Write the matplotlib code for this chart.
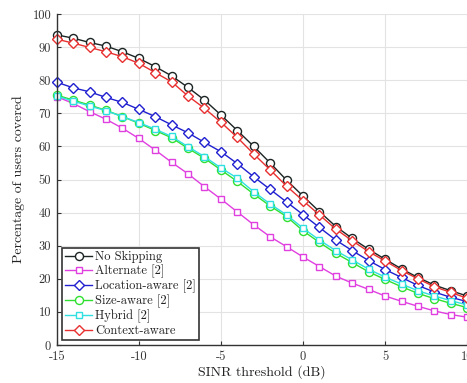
import numpy as np
import matplotlib
matplotlib.use("Agg")
import matplotlib.pyplot as plt

sinr = list(range(-15, 11))

no_skipping = [93.7, 92.7, 91.4, 90.3, 88.6, 86.6, 84.1, 81.3, 77.8, 74.0, 69.5, 64.8, 60.0,
               55.0, 49.8, 45.0, 40.3, 35.8, 32.2, 28.9, 25.9, 23.0, 20.4, 18.1, 16.4, 14.8]
alternate = [75.0, 73.0, 70.5, 68.2, 65.5, 62.4, 58.9, 55.2, 51.7, 47.8, 44.1, 40.2, 36.3,
             32.7, 29.7, 26.6, 23.7, 20.8, 18.7, 16.8, 14.8, 13.2, 11.7, 10.3, 9.2, 8.4]
location_aware = [79.4, 77.7, 76.5, 74.8, 73.3, 71.2, 69.0, 66.5, 64.1, 61.2, 58.4, 54.8, 50.8,
                  47.0, 43.2, 39.4, 35.5, 31.7, 28.5, 25.5, 22.8, 20.4, 18.0, 16.0, 14.4, 13.1]
size_aware = [75.5, 74.0, 72.5, 70.9, 69.0, 67.0, 64.8, 62.6, 59.4, 56.4, 52.9, 49.4, 45.6,
              42.0, 38.8, 34.5, 31.0, 27.7, 24.9, 22.1, 19.8, 17.6, 15.6, 14.0, 12.6, 11.3]
hybrid = [75.2, 73.7, 72.2, 70.8, 69.0, 67.2, 65.2, 63.0, 59.9, 56.9, 53.5, 50.4, 46.3,
          42.6, 39.3, 35.3, 31.7, 28.5, 25.7, 22.9, 20.5, 18.4, 16.4, 14.8, 13.4, 12.1]
context_aware = [92.4, 91.2, 89.9, 88.6, 87.1, 85.1, 82.3, 79.5, 75.2, 71.5, 67.3, 62.7, 57.7,
                 52.9, 48.0, 43.6, 39.3, 35.0, 31.5, 28.2, 25.4, 22.5, 20.0, 17.6, 15.9, 14.1]

labels = ["No Skipping", "Alternate [2]", "Location-aware [2]", "Size-aware [2]",
          "Hybrid [2]", "Context-aware"]
xtick_vals = [-15, -10, -5, 0, 5, 10]
xtick_labels = ["-15", "-10", "-5", "0", "5", "10"]
ytick_vals = [0, 10, 20, 30, 40, 50, 60, 70, 80, 90, 100]
ytick_labels = ["0", "10", "20", "30", "40", "50", "60", "70", "80", "90", "100"]

plt.rcParams['font.family'] = ['cmr10', 'DejaVu Serif']
plt.rcParams['mathtext.fontset'] = 'cm'

fig = plt.figure(figsize=(4.67, 3.83), dpi=100)
ax = fig.add_axes([56.7/467, 38/383, 410.5/467, 331/383])

series = [
    (no_skipping, '#1c2424', 'o'),
    (alternate, '#e040e0', 's'),
    (location_aware, '#2020d0', 'D'),
    (size_aware, '#30e030', 'o'),
    (hybrid, '#30e0e0', 's'),
    (context_aware, '#e83030', 'D'),
]
for (vals, col, mk), lab in zip(series, labels):
    ms = 5.8 if mk == 'o' else (4.7 if mk == 's' else 5.0)
    ax.plot(sinr, vals, color=col, marker=mk, markersize=ms, markerfacecolor='white',
            markeredgecolor=col, markeredgewidth=1.0, linewidth=1.0, label=lab,
            clip_on=False)

ax.set_xlim(-15, 10)
ax.set_ylim(0, 100)
ax.set_xticks(xtick_vals)
ax.set_xticklabels(xtick_labels)
ax.set_yticks(ytick_vals)
ax.set_yticklabels(ytick_labels)
ax.grid(True, color='#e3e3e3', linewidth=0.8)
ax.set_axisbelow(True)
ax.tick_params(direction='in', length=3, width=0.8, labelsize=9, colors='#333333', pad=4)
ax.spines['top'].set_visible(False)
ax.spines['right'].set_visible(False)
for s in ['left', 'bottom']:
    ax.spines[s].set_color('#333333')
    ax.spines[s].set_linewidth(1.0)

ax.set_xlabel('SINR threshold (dB)', fontsize=10, color='#222222', labelpad=2)
ax.set_ylabel('Percentage of users covered', fontsize=10, color='#222222', labelpad=5)

leg = ax.legend(loc='lower left', fontsize=9, frameon=True, fancybox=False,
                edgecolor='#333333', framealpha=1, handlelength=2.2, handletextpad=0.25,
                labelspacing=0.12, borderpad=0.25, borderaxespad=0.4)
leg.get_frame().set_linewidth(1.2)
for t in leg.get_texts():
    t.set_color('#222222')

fig.savefig('out.png', dpi=100)
